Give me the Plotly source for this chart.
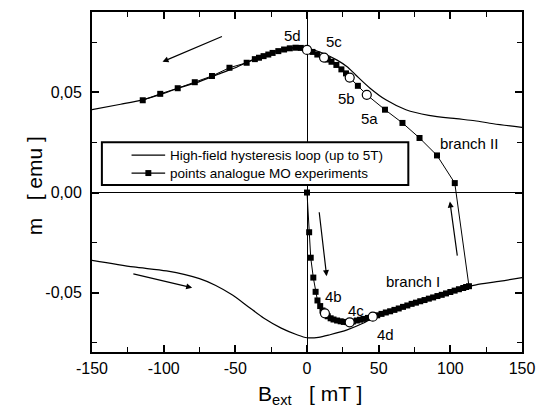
import plotly.graph_objects as go

# High-field hysteresis loop (upper branch: field decreasing, lower branch: field increasing)
hf_upper_x = [150, 130, 117, 104, 85, 69, 55, 44, 34, 28, 21, 12, 5, 0, -5, -10, -20, -30, -40,
              -50, -60, -75, -90, -100, -115, -130, -150]
hf_upper_m = [0.0325, 0.0343, 0.0358, 0.0368, 0.0385, 0.0413, 0.0462, 0.0520, 0.0586, 0.0627,
              0.0660, 0.0692, 0.0710, 0.0718, 0.0722, 0.0722, 0.0710, 0.0685, 0.0655, 0.0622,
              0.0595, 0.0553, 0.0520, 0.0494, 0.0462, 0.0440, 0.0413]
hf_lower_x = [-150, -121, -98, -75, -64, -52, -41, -30, -18, -7, 0, 8, 16, 28, 39, 46, 62, 74,
              85, 97, 113, 118, 135, 150]
hf_lower_m = [-0.0338, -0.0371, -0.0391, -0.0429, -0.0462, -0.0511, -0.0569, -0.0627, -0.0676,
              -0.0709, -0.0724, -0.0722, -0.0709, -0.0685, -0.0652, -0.0625, -0.0585, -0.0556,
              -0.0530, -0.0505, -0.0468, -0.0460, -0.0442, -0.0424]

# Points analogue MO experiments (branch I, then branch II)
mo_x = [0, 1.5, 2.6, 4.4, 6.0, 7.3, 9.2, 10.8, 12.5, 14.5, 16.5, 18.5, 21, 23.5, 25.7, 27.8,
        29.8, 32, 34.8, 37, 39.4, 42.5, 45.9, 49, 52, 55, 58, 61, 64, 67, 70, 73, 76, 79, 82,
        85, 88, 91, 94, 97, 100, 103, 106, 109, 111, 113,
        103.1, 90.7, 78.5, 66.6, 54.4, 41.7, 35.5, 29.8, 27.2, 24.0, 20.5, 17.1, 14.5, 11.9,
        7.2, 3.8, 0, -4.3, -8, -12, -16, -20, -24, -27, -30.3, -33.5, -36.4, -42.1, -54.1,
        -66.3, -78.3, -90.2, -102.4, -114.6]
mo_m = [0, -0.0198, -0.0325, -0.0424, -0.0495, -0.0538, -0.0566, -0.0588, -0.0602, -0.0617,
        -0.0627, -0.0633, -0.0638, -0.0642, -0.0645, -0.0646, -0.0647, -0.0643, -0.0638,
        -0.0634, -0.0630, -0.0625, -0.0619, -0.0612, -0.0605, -0.0598, -0.0592, -0.0585,
        -0.0578, -0.0570, -0.0563, -0.0555, -0.0549, -0.0542, -0.0536, -0.0529, -0.0523,
        -0.0516, -0.0510, -0.0503, -0.0496, -0.0489, -0.0482, -0.0476, -0.0471, -0.0467,
        0.0047, 0.0185, 0.0272, 0.0347, 0.0413, 0.0487, 0.0532, 0.0573, 0.0594, 0.0614,
        0.0636, 0.0652, 0.0663, 0.0673, 0.0688, 0.0701, 0.0711, 0.0721, 0.0722, 0.0719,
        0.0713, 0.0705, 0.0696, 0.0688, 0.0680, 0.0672, 0.0665, 0.0647, 0.0622, 0.0581,
        0.0550, 0.0520, 0.0492, 0.0460]

# Open circles (MO image positions)
circ_x = [0, 11.9, 29.8, 41.7, 12.5, 29.8, 45.9]
circ_m = [0.0711, 0.0673, 0.0573, 0.0487, -0.0602, -0.0647, -0.0619]

# Labels
lab_text = ["5d", "5c", "5b", "5a", "branch II", "branch I", "4b", "4c", "4d"]
lab_x = [-10, 18.8, 27.9, 43.6, 113, 73.9, 18.8, 34.3, 55.1]
lab_m = [0.0781, 0.0754, 0.0467, 0.0368, 0.0243, -0.0446, -0.0516, -0.0589, -0.0709]

# Arrows (tail -> head)
arr_tail_x = [-58.3, -122.2, 8.4, 105]
arr_tail_m = [0.0781, -0.0404, -0.0091, -0.0322]
arr_head_x = [-100.8, -80.1, 13.7, 99.7]
arr_head_m = [0.0652, -0.0475, -0.0417, -0.0045]

x_ticks = [-150, -100, -50, 0, 50, 100, 150]
x_ticktext = ["-150", "-100", "-50", "0", "50", "100", "150"]
x_minor = [-125, -75, -25, 25, 75, 125]
y_ticks = [-0.05, 0.0, 0.05]
y_ticktext = ["-0,05", "0,00", "0,05"]
y_minor = [-0.075, -0.025, 0.025, 0.075]

legend_labels = ["High-field hysteresis loop (up to 5T)", "points analogue MO experiments"]

FONT = "Arial, Liberation Sans, sans-serif"

fig = go.Figure()
fig.add_trace(go.Scatter(
    x=hf_upper_x + [None] + hf_lower_x, y=hf_upper_m + [None] + hf_lower_m,
    mode="lines", line=dict(color="black", width=1.2, shape="spline", smoothing=0.8),
    showlegend=False, connectgaps=False))
fig.add_trace(go.Scatter(
    x=mo_x, y=mo_m, mode="lines+markers",
    line=dict(color="black", width=1),
    marker=dict(symbol="square", size=6, color="black"),
    showlegend=False))
fig.add_trace(go.Scatter(
    x=circ_x, y=circ_m, mode="markers",
    marker=dict(symbol="circle", size=9, color="white", line=dict(color="black", width=1.2)),
    showlegend=False))

for t, x, y in zip(lab_text, lab_x, lab_m):
    fig.add_annotation(x=x, y=y, text=t, showarrow=False,
                       font=dict(family=FONT, size=15, color="black"))

for tx, ty, hx, hy in zip(arr_tail_x, arr_tail_m, arr_head_x, arr_head_m):
    fig.add_annotation(x=hx, y=hy, ax=tx, ay=ty, axref="x", ayref="y", xref="x", yref="y",
                       text="", showarrow=True, arrowhead=2, arrowsize=1, arrowwidth=1.2,
                       arrowcolor="black", standoff=0, startstandoff=0)

# Legend box (drawn manually)
W, H = 545, 407
L, R, T, B = 92, 18, 10, 55
pw, ph = W - L - R, H - T - B


def px(xp):
    return (xp - L) / pw


def py(yp):
    return (H - B - yp) / ph


fig.add_shape(type="rect", xref="paper", yref="paper", x0=px(102), x1=px(412), y0=py(184),
              y1=py(141), line=dict(color="black", width=2), fillcolor="white", layer="above")
rows = [154, 172]
for i, (lbl, ry) in enumerate(zip(legend_labels, rows)):
    fig.add_shape(type="line", xref="paper", yref="paper", x0=px(132), x1=px(166),
                  y0=py(ry), y1=py(ry), line=dict(color="black", width=1.2), layer="above")
    if i == 1:
        fig.add_shape(type="rect", xref="paper", yref="paper", x0=px(146), x1=px(152),
                      y0=py(ry + 3), y1=py(ry - 3), line=dict(color="black", width=0),
                      fillcolor="black", layer="above")
    fig.add_annotation(xref="paper", yref="paper", x=px(169), y=py(ry), text=lbl,
                       showarrow=False, xanchor="left", yanchor="middle",
                       font=dict(family=FONT, size=13.5, color="black"))

# Axis titles
fig.add_annotation(xref="paper", yref="paper", x=px(21), y=py(185), text="m   [ emu ]",
                   textangle=-90, showarrow=False, font=dict(family=FONT, size=21, color="black"))
fig.add_annotation(xref="paper", yref="paper", x=px(313), y=py(380), yanchor="top",
                   text="B<sub>ext</sub>   [ mT ]", showarrow=False,
                   font=dict(family=FONT, size=21, color="black"))

axis_common = dict(showline=True, linecolor="black", linewidth=2, mirror="allticks",
                   ticks="inside", ticklen=7, tickwidth=1.5, tickcolor="black",
                   showgrid=False, zeroline=True, zerolinecolor="black", zerolinewidth=1.3,
                   tickfont=dict(family=FONT, size=16, color="black"))

fig.update_xaxes(range=[-150, 150], tickmode="array", tickvals=x_ticks, ticktext=x_ticktext,
                 minor=dict(tickmode="array", tickvals=x_minor, ticks="inside", ticklen=5,
                            tickwidth=1.2, tickcolor="black"),
                 ticklabelstandoff=1, **axis_common)
fig.update_yaxes(range=[-0.0795, 0.09], tickmode="array", tickvals=y_ticks, ticktext=y_ticktext,
                 minor=dict(tickmode="array", tickvals=y_minor, ticks="inside", ticklen=5,
                            tickwidth=1.2, tickcolor="black"),
                 ticklabelstandoff=5, **axis_common)

fig.update_layout(width=W, height=H, margin=dict(l=L, r=R, t=T, b=B),
                  paper_bgcolor="white", plot_bgcolor="white", showlegend=False,
                  font=dict(family=FONT, color="black"))

fig.write_html("out.html", config={"displayModeBar": False},
               post_script="document.body.style.margin='0';document.body.style.padding='0';")
